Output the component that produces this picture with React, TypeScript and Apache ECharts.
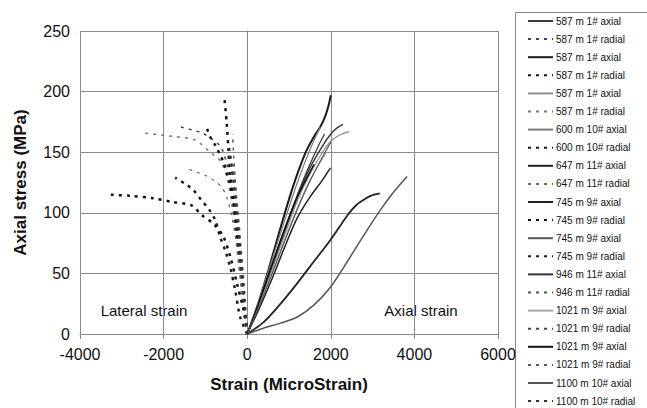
import React, { useEffect, useRef } from "react";
import * as echarts from "echarts";

// ---------- Data ----------
const seriesNames = [
  "587 m 1# axial", "587 m 1# radial",
  "587 m 1# axial", "587 m 1# radial",
  "587 m 1# axial", "587 m 1# radial",
  "600 m 10# axial", "600 m 10# radial",
  "647 m 11# axial", "647 m 11# radial",
  "745 m 9# axial", "745 m 9# radial",
  "745 m 9# axial", "745 m 9# radial",
  "946 m 11# axial", "946 m 11# radial",
  "1021 m 9# axial", "1021 m 9# radial",
  "1021 m 9# axial", "1021 m 9# radial",
  "1100 m 10# axial", "1100 m 10# radial",
];

// axial curves (strain in microstrain, stress in MPa)
const ax1Strain = [0, 300, 600, 900, 1200, 1500, 1800, 2000, 2150, 2290];
const ax1Stress = [0, 25, 55, 85, 113, 137, 155, 165, 170, 173];
const ax2Strain = [0, 200, 500, 800, 1100, 1400, 1600, 1750, 1870, 1950, 2000];
const ax2Stress = [0, 18, 52, 88, 122, 150, 163, 171, 180, 189, 197];
const ax3Strain = [0, 300, 600, 900, 1200, 1500, 1800, 2000, 2200, 2440];
const ax3Stress = [0, 26, 54, 82, 110, 132, 150, 159, 164, 167];
const ax4Strain = [0, 300, 600, 900, 1200, 1500, 1750];
const ax4Stress = [0, 30, 62, 94, 125, 152, 171];
const ax5Strain = [0, 300, 600, 900, 1200, 1500, 1800, 1990];
const ax5Stress = [0, 22, 46, 72, 96, 113, 127, 137];
const ax6Strain = [0, 400, 800, 1200, 1600, 2000, 2400, 2600, 2800, 2950, 3170];
const ax6Stress = [0, 10, 25, 42, 60, 78, 98, 106, 111, 114, 116];
const ax7Strain = [0, 400, 800, 1200, 1600, 2000, 2400, 2800, 3200, 3500, 3825];
const ax7Stress = [0, 5, 9, 14, 24, 39, 60, 82, 103, 117, 130];
const ax8Strain = [0, 300, 600, 900, 1200, 1500, 1700, 1850];
const ax8Stress = [0, 27, 57, 87, 115, 140, 155, 165];
const ax9Strain = [0, 300, 600, 900, 1200, 1500, 1900];
const ax9Stress = [0, 25, 51, 78, 104, 127, 150];
const ax10Strain = [0, 300, 600, 900, 1200, 1600];
const ax10Stress = [0, 28, 58, 87, 113, 140];
const ax11Strain = [0, 300, 600, 900, 1200, 1500, 1800, 2000];
const ax11Stress = [0, 24, 50, 77, 103, 126, 146, 158];

// radial (lateral) curves
const ra1Strain = [0, -80, -160, -250, -330, -420, -607, -846, -1086, -1285, -1605];
const ra1Stress = [0, 25, 55, 85, 110, 130, 153, 161, 166, 168, 171];
const ra2Strain = [0, -30, -90, -170, -250, -330, -410, -450, -490, -543];
const ra2Stress = [0, 10, 31, 58, 86, 110, 132, 152, 174, 194];
const ra3Strain = [0, -100, -200, -290, -380, -487, -647, -886, -1245, -1765, -2523];
const ra3Stress = [0, 25, 55, 85, 110, 130, 143, 150, 160, 163, 166];
const ra4Strain = [0, -40, -100, -170, -250, -330, -420, -490, -560, -650, -770, -890, -966];
const ra4Stress = [0, 15, 35, 60, 85, 108, 125, 133, 141, 148, 156, 163, 170];
const ra5Strain = [0, -50, -110, -180, -260, -370, -490, -610, -810, -1010, -1250, -1485];
const ra5Stress = [0, 15, 35, 55, 75, 97, 113, 121, 127, 131, 134, 137];
const ra6Strain = [0, -8, -88, -247, -407, -567, -806, -1086, -1325, -1800, -2250, -2800, -3320];
const ra6Stress = [0, 3, 20, 42, 64, 80, 91, 98, 106, 109, 112, 114, 115];
const ra7Strain = [0, -168, -287, -407, -527, -647, -766, -926, -1086, -1285, -1485, -1725];
const ra7Stress = [0, 14, 36, 55, 69, 80, 94, 103.5, 110, 118.6, 124, 129];
const ra8Strain = [0, -40, -100, -160, -220, -270, -320, -350];
const ra8Stress = [0, 20, 45, 70, 95, 120, 145, 165];
const ra9Strain = [0, -60, -130, -200, -270, -330, -390, -420];
const ra9Stress = [0, 25, 55, 80, 105, 125, 140, 150];
const ra10Strain = [0, -30, -80, -140, -200, -260, -300, -330];
const ra10Stress = [0, 20, 45, 70, 95, 115, 130, 140];
const ra11Strain = [0, -50, -110, -180, -250, -320, -390, -450];
const ra11Stress = [0, 20, 45, 75, 100, 125, 145, 158];

const curveStrains = [
  ax1Strain, ra1Strain, ax2Strain, ra2Strain, ax3Strain, ra3Strain,
  ax4Strain, ra4Strain, ax5Strain, ra5Strain, ax6Strain, ra6Strain,
  ax7Strain, ra7Strain, ax8Strain, ra8Strain, ax9Strain, ra9Strain,
  ax10Strain, ra10Strain, ax11Strain, ra11Strain,
];
const curveStresses = [
  ax1Stress, ra1Stress, ax2Stress, ra2Stress, ax3Stress, ra3Stress,
  ax4Stress, ra4Stress, ax5Stress, ra5Stress, ax6Stress, ra6Stress,
  ax7Stress, ra7Stress, ax8Stress, ra8Stress, ax9Stress, ra9Stress,
  ax10Stress, ra10Stress, ax11Stress, ra11Stress,
];

const xTicks = [-4000, -2000, 0, 2000, 4000, 6000];
const yTicks = [0, 50, 100, 150, 200, 250];

// ---------- Styles ----------
const lineColors = [
  "#3a3a3a", "#444444", "#1a1a1a", "#111111", "#8c8c8c", "#777777",
  "#7a7a7a", "#111111", "#222222", "#666666", "#222222", "#111111",
  "#555555", "#1a1a1a", "#333333", "#555555", "#aaaaaa", "#444444",
  "#111111", "#555555", "#555555", "#333333",
];
const lineWidths = [
  1.5, 1.5, 2, 2.5, 1.2, 1.5, 1.2, 2.5, 1.5, 1.2, 1.8, 2.5,
  1.5, 2.5, 1.2, 1.5, 1.2, 2, 1.5, 1.2, 1.2, 2,
];

const FONT = "'Liberation Sans', Arial, Helvetica, sans-serif";

export default function App() {
  const ref = useRef<HTMLDivElement>(null);
  useEffect(() => {
    if (!ref.current) return;
    const chart = echarts.init(ref.current, undefined, { renderer: "svg" });
    const series = seriesNames.map((name, i) => {
      const xs = curveStrains[i];
      const ys = curveStresses[i];
      const radial = i % 2 === 1;
      return {
        type: "line",
        name: name + " ".repeat(i),
        data: xs.map((x, k) => [x, ys[k]]),
        symbol: "none",
        smooth: 0.3,
        lineStyle: {
          color: lineColors[i],
          width: lineWidths[i],
          type: radial ? [3, 5] : "solid",
        },
        itemStyle: { color: lineColors[i], opacity: 0 },
        z: 3,
      };
    });
    chart.setOption({
      animation: false,
      backgroundColor: "#ffffff",
      textStyle: { fontFamily: FONT },
      grid: { left: 80, right: 149, top: 31, bottom: 74, containLabel: false },
      xAxis: {
        type: "value",
        min: xTicks[0],
        max: xTicks[xTicks.length - 1],
        interval: 2000,
        name: "Strain (MicroStrain)",
        nameLocation: "middle",
        nameGap: 42,
        nameTextStyle: { fontSize: 17, fontWeight: "bold", color: "#111", fontFamily: FONT },
        axisLine: { show: true, onZero: false, lineStyle: { color: "#888", width: 1 } },
        axisTick: { show: true, inside: false, length: 5, lineStyle: { color: "#888" } },
        axisLabel: {
          fontSize: 16, color: "#111", margin: 12, fontFamily: FONT,
          formatter: (v: number) => String(v),
        },
        splitLine: { show: true, lineStyle: { color: "#8a8a8a", width: 1 } },
      },
      yAxis: {
        type: "value",
        min: yTicks[0],
        max: yTicks[yTicks.length - 1],
        interval: 50,
        name: "Axial stress (MPa)",
        nameLocation: "middle",
        nameGap: 51,
        nameTextStyle: { fontSize: 17, fontWeight: "bold", color: "#111", fontFamily: FONT },
        axisLine: { show: true, lineStyle: { color: "#888", width: 1 } },
        axisTick: { show: true, inside: false, length: 5, lineStyle: { color: "#888" } },
        axisLabel: {
          fontSize: 16, color: "#111", margin: 10, fontFamily: FONT,
          formatter: (v: number) => String(v),
        },
        splitLine: { show: true, lineStyle: { color: "#8a8a8a", width: 1 } },
      },
      legend: {
        orient: "vertical",
        left: 527,
        top: 16,
        padding: 0,
        itemWidth: 25,
        itemHeight: 10,
        itemGap: 8.1,
        itemStyle: { opacity: 0 },
        formatter: (n: string) => n.trim(),
        textStyle: { fontSize: 10, color: "#111", fontFamily: FONT, padding: [0, 0, 0, -2] },
        selectedMode: false,
      },
      graphic: [
        {
          type: "rect",
          shape: { x: 515.5, y: 12.5, width: 140, height: 410 },
          style: { fill: "none", stroke: "#888", lineWidth: 1 },
          silent: true,
        },
        {
          type: "text",
          x: 144,
          y: 310,
          style: {
            text: "Lateral strain",
            fontSize: 15,
            fontFamily: FONT,
            fill: "#111",
            textAlign: "center",
            textVerticalAlign: "middle",
          },
        },
        {
          type: "text",
          x: 421,
          y: 310,
          style: {
            text: "Axial strain",
            fontSize: 15,
            fontFamily: FONT,
            fill: "#111",
            textAlign: "center",
            textVerticalAlign: "middle",
          },
        },
      ],
      series,
    });
    return () => chart.dispose();
  }, []);
  return <div ref={ref} style={{ width: 647, height: 408, position: "absolute", left: 0, top: 0 }} />;
}
